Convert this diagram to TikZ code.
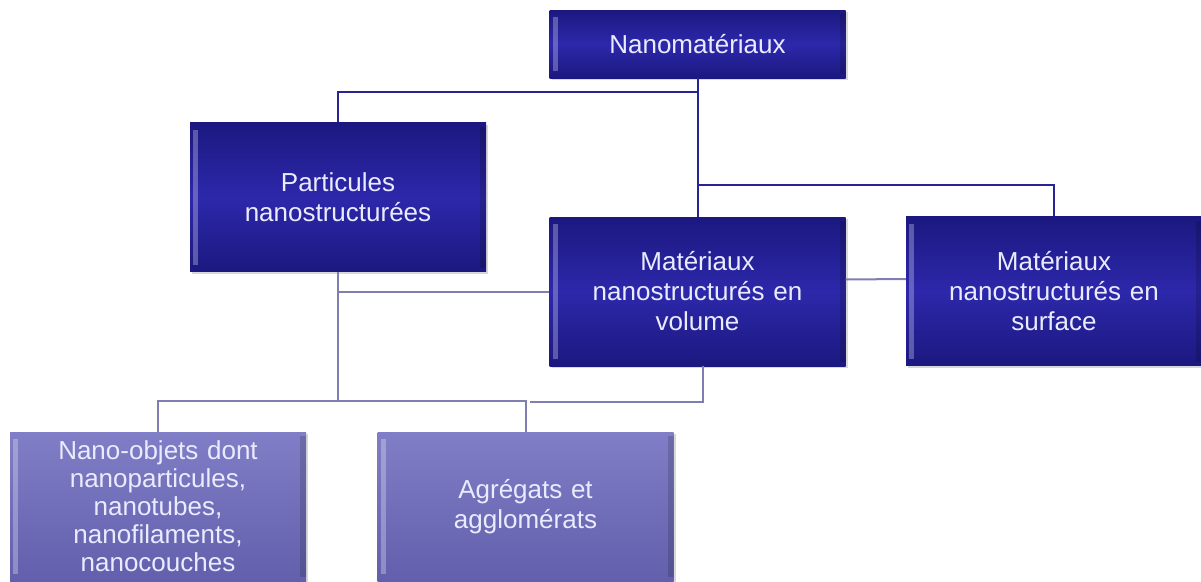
\documentclass[tikz,border=0pt]{standalone}
\usepackage{fontspec}
\setmainfont{Liberation Sans}
\usepackage{tikz}
\usetikzlibrary{shadows}

\definecolor{navyfond}{RGB}{28,24,128}
\definecolor{navyclair}{RGB}{44,40,170}
\definecolor{mauvefond}{RGB}{98,96,172}
\definecolor{mauveclair}{RGB}{128,126,198}
\definecolor{traithaut}{RGB}{40,36,150}
\definecolor{traitbas}{RGB}{128,126,176}

\begin{document}
\begin{tikzpicture}[x=1pt,y=-1pt,
    boite/.style={rectangle, minimum width=296pt, minimum height=149pt, inner sep=0pt,
      text width=290pt, align=center, text=white!92!blue,
      font=\fontsize{26}{30}\selectfont,
      drop shadow={shadow xshift=2pt, shadow yshift=-2pt, opacity=.3},
      path picture={\fill[white,opacity=.28] ([xshift=3pt,yshift=-7pt]path picture bounding box.north west) rectangle ([xshift=8pt,yshift=7pt]path picture bounding box.south west);
        \fill[black,opacity=.15] ([xshift=-6pt,yshift=-4pt]path picture bounding box.north east) rectangle ([yshift=4pt]path picture bounding box.south east);}},
    fonce/.style={boite, top color=navyfond, bottom color=navyfond, middle color=navyclair},
    pale/.style={boite, top color=mauveclair, bottom color=mauvefond},
    lienhaut/.style={draw=traithaut, line width=2pt},
    lienbas/.style={draw=traitbas, line width=2pt}]
  \useasboundingbox[fill=white] (0,0) rectangle (1201,581);

  \node (nano)  at (697.5,44)  [fonce, minimum height=68pt] {Nanomatériaux};
  \node (part)  at (338,197)   [fonce] {Particules\\nanostructurées};
  \node (vol)   at (697.5,291.5) [fonce] {Matériaux\\nanostructurés en\\volume};
  \node (surf)  at (1054,291)  [fonce] {Matériaux\\nanostructurés en\\surface};
  \node (objet) at (158,506.5) [pale, font=\fontsize{26}{28}\selectfont] {Nano-objets dont\\nanoparticules,\\nanotubes,\\nanofilaments,\\nanocouches};
  \node (agreg) at (525.5,506.5) [pale] {Agrégats et\\agglomérats};

  \coordinate (hautgauche) at (697.5,92);
  \coordinate (hautdroite) at (697.5,185);
  \coordinate (basgauche)  at (338,401);
  \coordinate (basvol)     at (703,402);

  \begin{scope}[on background layer/.try]
  \draw[lienhaut] (nano.south) -- (hautgauche) -| (part.north);
  \draw[lienhaut] (hautgauche) -- (vol.north);
  \draw[lienhaut] (hautdroite) -| (surf.north);
  \draw[lienbas] ([yshift=12pt]vol.east) -- ([yshift=12pt]surf.west);
  \draw[lienbas] (part.south) -- (basgauche) -| (objet.north);
  \draw[lienbas] (basgauche) -| (agreg.north);
  \draw[lienbas] (part.south |- vol.west) -- (vol.west);
  \draw[lienbas] ([xshift=5.5pt]vol.south) -- (basvol) -- (530,402);
  \end{scope}
\end{tikzpicture}
\end{document}
